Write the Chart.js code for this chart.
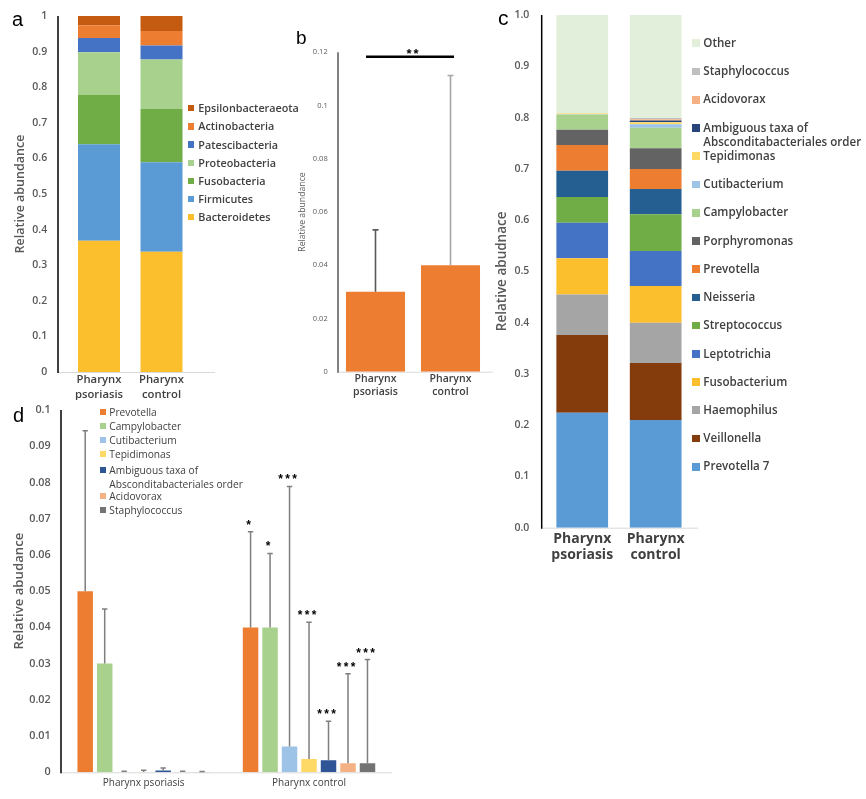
<!DOCTYPE html>
<html><head><meta charset="utf-8">
<script src="https://cdn.jsdelivr.net/npm/chart.js@4.4.0/dist/chart.umd.min.js"></script>
<style>
body{margin:0;background:#fff;width:866px;height:799px;position:relative;overflow:hidden;font-family:'Open Sans',sans-serif;}
canvas{position:absolute;}
.lbl{position:absolute;font-family:Arial,'Liberation Sans',sans-serif;color:#000;line-height:20px;}
.item{position:absolute;color:#404040;}
.item i{position:absolute;display:block;}
</style></head><body>
<canvas id="ca" width="230" height="400" style="left:0;top:0"></canvas>
<canvas id="cb" width="220" height="380" style="left:280px;top:20px"></canvas>
<canvas id="cc" width="376" height="570" style="left:490px;top:0"></canvas>
<canvas id="cd" width="500" height="404" style="left:0;top:395px"></canvas>
<div class="lbl" style="left:12px;top:9px;font-size:20px">a</div>
<div class="lbl" style="left:296px;top:28px;font-size:19px">b</div>
<div class="lbl" style="left:498px;top:8px;font-size:21px">c</div>
<div class="lbl" style="left:13px;top:405px;font-size:20px">d</div>
<div id="legA"></div><div id="legC"></div><div id="legD"></div>
<script>
// ---------- DATA ----------
const groupLabels = [['Pharynx','psoriasis'],['Pharynx','control']];
const groupLabelsD = ['Pharynx psoriasis','Pharynx control'];

// panel a (phyla, bottom -> top)
const phyla = ['Bacteroidetes','Firmicutes','Fusobacteria','Proteobacteria','Patescibacteria','Actinobacteria','Epsilonbacteraeota'];
const phylaPsoriasis = [0.369,0.271,0.138,0.120,0.040,0.036,0.026];
const phylaControl   = [0.338,0.251,0.150,0.139,0.039,0.041,0.042];

// panel b
const bMeans  = [0.030,0.040];
const bErrTop = [0.0533,0.1113];
const bSigLevel = 0.1183;
const bSigText = '**';

// panel c (genera, bottom -> top)
const genera = ['Prevotella 7','Veillonella','Haemophilus','Fusobacterium','Leptotrichia','Streptococcus','Neisseria','Prevotella','Porphyromonas','Campylobacter','Cutibacterium','Tepidimonas','Ambiguous taxa of Absconditabacteriales order','Acidovorax','Staphylococcus','Other'];
const generaPsoriasis = [0.224,0.152,0.079,0.0705,0.0695,0.050,0.051,0.0505,0.0295,0.030,0.0002,0.0015,0.0004,0.0002,0.0001,0.1921];
const generaControl   = [0.210,0.111,0.0786,0.072,0.0683,0.0713,0.0494,0.039,0.0404,0.040,0.0071,0.0037,0.0033,0.0025,0.0025,0.2008];

// panel d
const dTaxa = ['Prevotella','Campylobacter','Cutibacterium','Tepidimonas','Ambiguous taxa of Absconditabacteriales order','Acidovorax','Staphylococcus'];
const dPsoriasis    = [0.050,0.030,0.0001,0.0001,0.0005,0.0001,0.0001];
const dPsoriasisErr = [0.0943,0.0451,0.0003,0.0006,0.0012,0.0003,0.0002];
const dControl      = [0.040,0.040,0.0071,0.0037,0.0033,0.0025,0.0025];
const dControlErr   = [0.0664,0.0604,0.0789,0.0414,0.0141,0.0272,0.0311];
const dControlStars = ['*','*','***','***','***','***','***'];

const yTicksA = [0,1,0.1];
const yTicksB = [0,0.12,0.02];
const yTicksC = [0,1,0.1];
const yTicksD = [0,0.1,0.01];

// ---------- STYLE ----------
const phylaColors = ['#FBBF2D','#5B9BD5','#70AD47','#A9D18E','#4472C4','#ED7D31','#C55A11'];
const generaColors = ['#5B9BD5','#843C0C','#A5A5A5','#FBBF2D','#4472C4','#70AD47','#255E91','#ED7D31','#636363','#A9D18E','#9DC3E6','#FFD966','#264478','#F4B183','#BFBFBF','#E2EFDA'];
const dColors = ['#ED7D31','#A9D18E','#9DC3E6','#FFD966','#2F5597','#F4B183','#737373'];

Chart.defaults.font.family = "'Open Sans', sans-serif";

const decor = {
  id:'decor',
  beforeDatasetsDraw(chart,args,o){
    const ctx=chart.ctx, a=chart.chartArea;
    const x0=a.left+(o.yDx||0);
    ctx.save();
    ctx.strokeStyle=o.xColor; ctx.lineWidth=o.xWidth;
    ctx.beginPath(); ctx.moveTo(x0,a.bottom+0.5); ctx.lineTo(a.right+(o.xExtra||0),a.bottom+0.5); ctx.stroke();
    ctx.strokeStyle=o.yColor; ctx.lineWidth=o.yWidth;
    ctx.beginPath(); ctx.moveTo(x0,a.top); ctx.lineTo(x0,a.bottom+1); ctx.stroke();
    ctx.restore();
  },
  afterDatasetsDraw(chart,args,o){
    const ctx=chart.ctx, ys=chart.scales.y, xs=chart.scales.x;
    chart.data.datasets.forEach((ds,i)=>{
      if(!ds.errTop) return;
      const meta=chart.getDatasetMeta(i);
      meta.data.forEach((el,j)=>{
        const v=ds.errTop[j]; if(v==null) return;
        const yT=ys.getPixelForValue(v);
        ctx.save();
        ctx.strokeStyle=(ds.errColor&&ds.errColor[j])||o.errColor; ctx.lineWidth=o.errWidth;
        ctx.beginPath(); ctx.moveTo(el.x,el.y); ctx.lineTo(el.x,yT);
        ctx.moveTo(el.x-o.cap,yT); ctx.lineTo(el.x+o.cap,yT); ctx.stroke();
        const s=ds.stars&&ds.stars[j];
        if(s){
          ctx.fillStyle='#000'; ctx.font=o.starFont; ctx.textAlign='center'; ctx.textBaseline='alphabetic';
          const n=s.length;
          for(let k=0;k<n;k++) ctx.fillText(s[k], el.x+o.starDx+(k-(n-1)/2)*o.starGap, yT-o.starDy);
        }
        ctx.restore();
      });
    });
    if(o.sig){
      const x1=xs.getPixelForValue(0)+o.sig.dx1, x2=xs.getPixelForValue(1)+o.sig.dx2, y=ys.getPixelForValue(o.sig.value);
      ctx.save(); ctx.strokeStyle='#000'; ctx.lineWidth=2.5;
      ctx.beginPath(); ctx.moveTo(x1,y); ctx.lineTo(x2,y); ctx.stroke();
      ctx.fillStyle='#000'; ctx.font=o.starFont; ctx.textAlign='center'; ctx.textBaseline='alphabetic';
      const s=o.sig.text, n=s.length, cx=(x1+x2)/2+o.sig.tdx;
      for(let k=0;k<n;k++) ctx.fillText(s[k], cx+(k-(n-1)/2)*o.starGap, y-o.sig.tdy);
      ctx.restore();
    }
  }
};

function fmt(v){ return String(+v.toFixed(3)); }

function makeChart(id, cfg){
  return new Chart(document.getElementById(id), {
    type:'bar',
    data:{labels:cfg.labels, datasets:cfg.datasets},
    options:{
      responsive:false, animation:false,
      layout:{padding:{left:0,top:cfg.T,right:cfg.R,bottom:0}},
      datasets:{bar:{categoryPercentage:cfg.catPct,barPercentage:cfg.barPct,borderWidth:0}},
      plugins:{legend:{display:false},tooltip:{enabled:false},decor:cfg.decor},
      scales:{
        x:{stacked:!!cfg.stacked, grid:{display:false,drawTicks:false}, border:{display:false},
           ticks:{font:cfg.xFont,color:cfg.xColor||'#404040',padding:cfg.xPad,maxRotation:0,autoSkip:false},
           afterFit:s=>{s.height=cfg.H; s.paddingLeft=0; s.paddingRight=0; s.paddingTop=0; s.paddingBottom=0;}},
        y:{stacked:!!cfg.stacked, min:cfg.yt[0], max:cfg.yt[1], grid:{display:false,drawTicks:false}, border:{display:false},
           ticks:{stepSize:cfg.yt[2], font:cfg.yFont, color:'#595959', padding:cfg.yPad, callback:cfg.fmt||fmt},
           title:{display:true,text:cfg.title,font:cfg.titleFont,color:'#595959',padding:{top:cfg.titlePad,bottom:0}},
           afterFit:s=>{s.width=cfg.W; s.paddingTop=0; s.paddingBottom=0; s.paddingLeft=0; s.paddingRight=0;}}
      }
    },
    plugins:[decor]
  });
}

// panel a
makeChart('ca',{
  labels:groupLabels,
  datasets:phyla.map((n,i)=>({label:n,data:[phylaPsoriasis[i],phylaControl[i]],backgroundColor:phylaColors[i]})),
  stacked:true, yt:yTicksA, W:67.75, T:16, R:37.25, H:28, catPct:1, barPct:0.672,
  xFont:{size:11.3,weight:'600',lineHeight:1.33}, xPad:0,
  yFont:{size:10.5,weight:'600'}, yPad:20.5,
  title:'Relative abundance', titleFont:{size:12.5,weight:'600'}, titlePad:12.5,
  decor:{yDx:-9.75,xExtra:22.25,xColor:'#D9D9D9',xWidth:1,yColor:'#000',yWidth:1.5}
});

// panel b
makeChart('cb',{
  labels:groupLabels,
  datasets:[{label:'Relative abundance',data:bMeans,backgroundColor:'#ED7D31',errTop:bErrTop,errColor:['#595959','#A6A6A6']}],
  yt:yTicksB, W:58, T:32.3, R:12, H:28.3, catPct:0.787, barPct:1,
  xFont:{size:10.5,weight:'600',lineHeight:1.2}, xPad:1,
  yFont:{size:7.5,weight:'400'}, yPad:10.3,
  title:'Relative abundance', titleFont:{size:8.7,weight:'400'}, titlePad:17.3,
  decor:{yDx:0,xExtra:5,xColor:'#D9D9D9',xWidth:1,yColor:'#595959',yWidth:1.5,errWidth:1.6,cap:3,
         starFont:"bold 13px Arial",starGap:7,
         sig:{value:bSigLevel,text:bSigText,dx1:-9.5,dx2:3.5,tdx:2.5,tdy:-1}}
});

// panel c
makeChart('cc',{
  labels:groupLabels,
  datasets:genera.map((n,i)=>({label:n,data:[generaPsoriasis[i],generaControl[i]],backgroundColor:generaColors[i]})),
  stacked:true, yt:yTicksC, W:55.5, T:15, R:173.6, H:42.3, catPct:1, barPct:0.704,
  fmt:v=>v.toFixed(1),
  xFont:{size:14,weight:'700',lineHeight:1.15}, xPad:3, xColor:'#404040',
  yFont:{size:10.5,weight:'600'}, yPad:16.2,
  title:'Relative abudnace', titleFont:{size:13.5,weight:'600'}, titlePad:4.5,
  decor:{yDx:-3.8,xExtra:5.6,xColor:'#D9D9D9',xWidth:1,yColor:'#000',yWidth:1.5}
});

// panel d
makeChart('cd',{
  labels:groupLabelsD,
  datasets:dTaxa.map((n,i)=>({label:n,data:[dPsoriasis[i],dControl[i]],backgroundColor:dColors[i],
     errTop:[dPsoriasisErr[i],dControlErr[i]],stars:['',dControlStars[i]]})),
  yt:yTicksD, W:61, T:15, R:108.3, H:26.7, catPct:0.825, barPct:0.795,
  xFont:{size:10,weight:'400'}, xPad:5, xColor:'#404040',
  yFont:{size:10.8,weight:'600'}, yPad:10.3,
  title:'Relative abudance', titleFont:{size:13.2,weight:'600'}, titlePad:11.2,
  decor:{yDx:0,xExtra:0,xColor:'#D9D9D9',xWidth:1,yColor:'#000',yWidth:1.5,errColor:'#7F7F7F',errWidth:1.5,cap:2.7,
         starFont:"bold 12px Arial",starGap:7,starDx:-2,starDy:3}
});

// ---------- HTML legends ----------
function legend(host, names, colors, L){
  const root=document.getElementById(host);
  names.forEach((n,i)=>{
    const cy=L.centers?L.centers[i]:L.y0+i*L.step;
    const d=document.createElement('div'); d.className='item';
    d.style.cssText=`left:${L.textX}px;top:${cy-L.lh/2}px;font-size:${L.fs}px;font-weight:${L.fw};line-height:${L.lh}px;width:${L.w}px;${L.nowrap?'white-space:nowrap;':''}`;
    d.textContent=n;
    const m=document.createElement('i');
    m.style.cssText=`left:${L.mx-L.textX}px;top:${L.lh/2-L.ms/2}px;width:${L.ms}px;height:${L.ms}px;background:${colors[i]}`;
    d.appendChild(m); root.appendChild(d);
  });
}
legend('legA', phyla.slice().reverse(), phylaColors.slice().reverse(),
  {textX:198.3,mx:188.3,ms:6.2,y0:108.3,step:18.15,fs:10.8,fw:600,lh:14,w:200,nowrap:true});
legend('legC', genera.slice().reverse(), generaColors.slice().reverse(),
  {textX:703.3,mx:692.3,ms:7.7,y0:43.3,step:28.23,fs:11.6,fw:600,lh:14.6,w:162});
legend('legD', dTaxa, dColors,
  {textX:109.3,mx:100,ms:6.2,centers:[412,425.7,439.7,454,470,495.7,509.7],fs:10.2,fw:400,lh:14,w:135});
</script>
</body></html>
